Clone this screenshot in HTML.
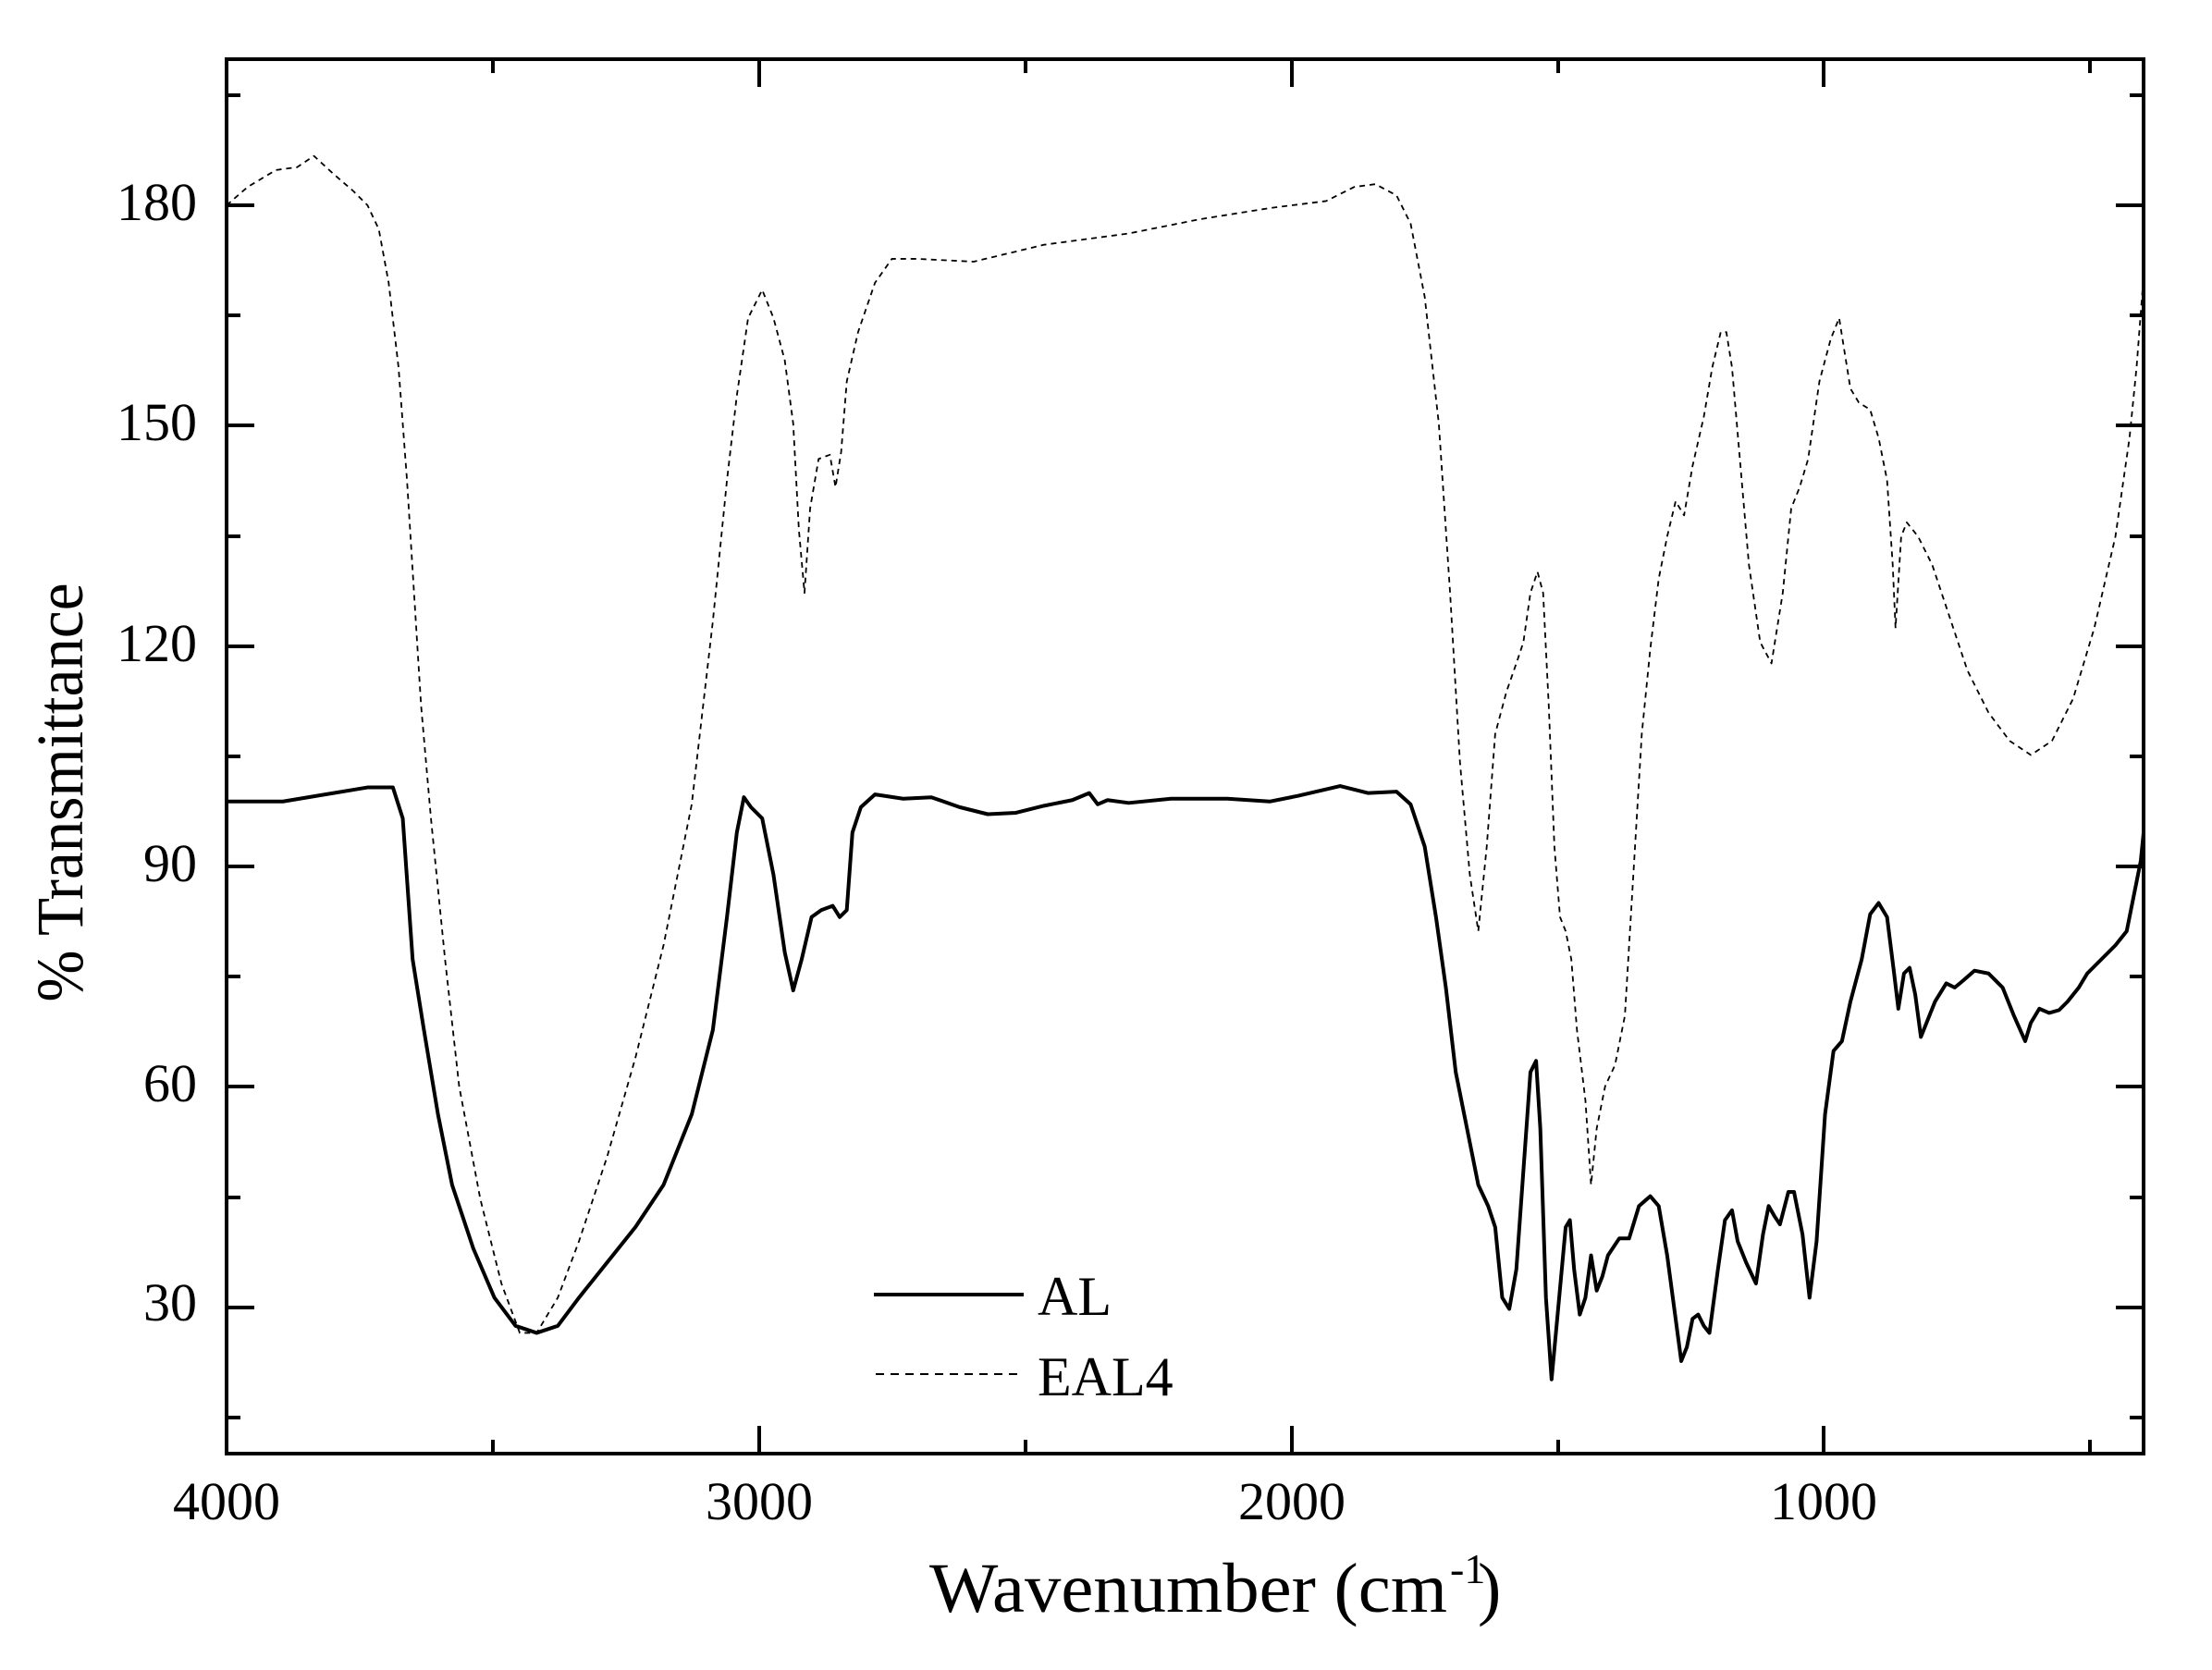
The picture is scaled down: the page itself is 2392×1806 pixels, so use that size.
<!DOCTYPE html>
<html><head><meta charset="utf-8"><style>
html,body{margin:0;padding:0;background:#fff;}
svg{display:block;}
text{font-family:"Liberation Serif",serif;fill:#000;}
</style></head><body>
<svg width="2392" height="1806" viewBox="0 0 2392 1806" xmlns="http://www.w3.org/2000/svg">
<rect width="2392" height="1806" fill="#fff"/>
<g transform="translate(245,222) scale(1.5243) translate(-160,-145)" fill="none" stroke="#000" stroke-linejoin="round">
<polyline vector-effect="non-scaling-stroke" stroke-width="1.8" stroke-dasharray="6,5" points="160,145 175,132 195,120 210,118 222,110 235,122 250,135 260,145 268,162 275,200 282,260 288,340 293,420 298,500 305,580 315,680 325,770 340,850 355,910 368,945 380,945 395,920 410,880 430,820 450,750 470,670 490,570 505,440 515,340 522,280 530,225 540,205 548,225 556,255 562,300 566,375 570,420 574,360 580,325 588,322 592,345 596,320 600,270 608,235 620,200 632,183 650,183 690,185 740,173 800,165 850,155 900,147 940,142 960,132 975,130 990,138 1000,158 1010,210 1020,300 1028,420 1035,540 1042,620 1048,660 1054,600 1060,520 1068,490 1075,470 1080,455 1085,420 1090,405 1094,420 1098,500 1102,600 1106,650 1110,660 1114,680 1118,730 1124,780 1128,840 1132,800 1138,770 1145,755 1152,720 1158,620 1164,520 1170,460 1176,410 1182,380 1188,355 1194,365 1200,330 1208,295 1214,260 1220,235 1224,235 1228,260 1234,330 1240,400 1248,455 1256,470 1264,420 1270,360 1276,345 1282,325 1290,270 1298,240 1304,225 1308,250 1312,275 1318,285 1326,290 1332,310 1338,340 1342,400 1344,445 1348,380 1352,370 1360,380 1370,400 1380,430 1395,475 1410,505 1425,525 1440,535 1455,525 1470,495 1485,445 1500,380 1510,310 1515,260 1520,195"/>
<polyline vector-effect="non-scaling-stroke" stroke-width="4" points="160,568 200,568 230,563 260,558 278,558 285,580 292,680 300,730 310,790 320,840 335,885 350,920 365,940 380,945 395,940 410,920 430,895 450,870 470,840 490,790 505,730 515,650 522,590 527,565 532,572 540,580 548,620 556,675 562,702 568,680 575,650 582,645 590,642 595,650 600,645 604,590 610,572 620,563 640,566 660,565 680,572 700,577 720,576 740,571 760,567 772,562 778,570 785,567 800,569 830,566 870,566 900,568 920,564 950,557 970,562 990,561 1000,570 1010,600 1018,650 1025,700 1032,760 1040,800 1048,840 1055,855 1060,870 1065,920 1070,928 1075,900 1080,830 1085,760 1089,752 1092,800 1096,920 1100,978 1104,935 1110,870 1113,865 1116,900 1120,932 1124,920 1128,890 1132,915 1136,905 1140,890 1148,878 1155,878 1162,855 1170,848 1176,855 1182,890 1188,935 1192,965 1196,955 1200,935 1204,932 1208,940 1212,945 1218,900 1223,865 1228,858 1232,880 1238,895 1245,910 1250,875 1254,855 1258,862 1262,868 1268,845 1272,845 1278,875 1283,920 1288,880 1294,790 1300,745 1306,738 1312,710 1320,680 1326,648 1332,640 1338,650 1343,690 1346,715 1350,690 1354,686 1358,705 1362,735 1366,725 1372,710 1380,697 1386,700 1392,695 1400,688 1410,690 1420,700 1428,720 1436,738 1440,725 1446,715 1453,718 1460,716 1466,710 1474,700 1480,690 1490,680 1500,670 1508,660 1512,640 1518,610 1520,590"/>
</g>
<g stroke="#000" stroke-width="4" fill="none">
<rect x="245" y="64" width="2073" height="1508"/>
<!-- x major ticks -->
<path d="M245,1572v-30M821,1572v-30M1397,1572v-30M1972,1572v-30M245,64v30M821,64v30M1397,64v30M1972,64v30"/>
<!-- x minor -->
<path d="M533,1572v-15M1109,1572v-15M1685,1572v-15M2260,1572v-15M533,64v15M1109,64v15M1685,64v15M2260,64v15"/>
<!-- y major -->
<path d="M245,222h30M245,460h30M245,699h30M245,937h30M245,1175h30M245,1414h30M2318,222h-30M2318,460h-30M2318,699h-30M2318,937h-30M2318,1175h-30M2318,1414h-30"/>
<!-- y minor -->
<path d="M245,103h15M245,341h15M245,580h15M245,818h15M245,1056h15M245,1295h15M245,1533h15M2318,103h-15M2318,341h-15M2318,580h-15M2318,818h-15M2318,1056h-15M2318,1295h-15M2318,1533h-15"/>
</g>
<g font-size="58" text-anchor="end">
<text x="213" y="238">180</text>
<text x="213" y="476">150</text>
<text x="213" y="715">120</text>
<text x="213" y="953">90</text>
<text x="213" y="1191">60</text>
<text x="213" y="1428">30</text>
</g>
<g font-size="58" text-anchor="middle">
<text x="245" y="1643">4000</text>
<text x="821" y="1643">3000</text>
<text x="1397" y="1643">2000</text>
<text x="1972" y="1643">1000</text>
</g>
<text x="1005" y="1743" font-size="76" textLength="560" lengthAdjust="spacingAndGlyphs">Wavenumber (cm</text>
<text x="1568" y="1712" font-size="46">-1</text>
<text x="1598" y="1743" font-size="76">)</text>
<text transform="translate(89,857) rotate(-90)" font-size="72" text-anchor="middle" textLength="453" lengthAdjust="spacingAndGlyphs">% Transmittance</text>
<line x1="945" y1="1400" x2="1107" y2="1400" stroke="#000" stroke-width="4"/>
<line x1="947" y1="1486" x2="1103" y2="1486" stroke="#000" stroke-width="2" stroke-dasharray="9,7"/>
<text x="1122" y="1422" font-size="60">AL</text>
<text x="1122" y="1509" font-size="60">EAL4</text>
</svg>
</body></html>
